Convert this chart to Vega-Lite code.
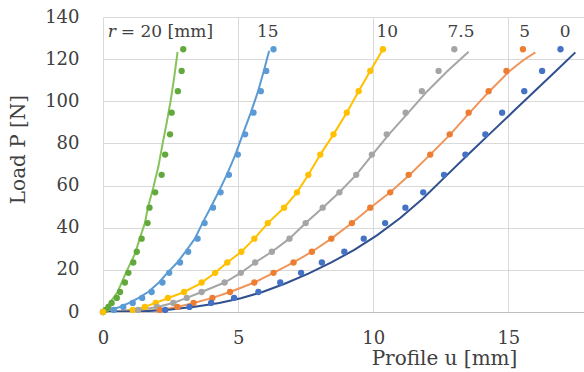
{
  "$schema": "https://vega.github.io/schema/vega-lite/v6.json",
  "width": 481,
  "height": 295,
  "autosize": {"type": "none"},
  "padding": {"left": 103, "top": 17, "right": 0, "bottom": 60},
  "background": "white",
  "config": {"view": {"stroke": null}, "font": "DejaVu Serif"},
  "datasets": {
    "measured": [
      {"r": "20", "u": 0, "P": 0}, {"r": "20", "u": 0.1, "P": 1.0}, {"r": "20", "u": 0.2, "P": 2.4}, {"r": "20", "u": 0.32, "P": 4.3},
      {"r": "20", "u": 0.51, "P": 6.7}, {"r": "20", "u": 0.63, "P": 9.5}, {"r": "20", "u": 0.81, "P": 14.0}, {"r": "20", "u": 0.94, "P": 18.6},
      {"r": "20", "u": 1.12, "P": 23.5}, {"r": "20", "u": 1.25, "P": 28.6}, {"r": "20", "u": 1.43, "P": 34.8}, {"r": "20", "u": 1.65, "P": 42.2},
      {"r": "20", "u": 1.72, "P": 49.5}, {"r": "20", "u": 1.93, "P": 56.8}, {"r": "20", "u": 2.17, "P": 65.1}, {"r": "20", "u": 2.30, "P": 74.7},
      {"r": "20", "u": 2.48, "P": 84.3}, {"r": "20", "u": 2.54, "P": 94.6}, {"r": "20", "u": 2.77, "P": 104.8}, {"r": "20", "u": 2.91, "P": 114.4},
      {"r": "20", "u": 2.97, "P": 124.7},
      {"r": "15", "u": 0, "P": 0}, {"r": "15", "u": 0.4, "P": 1.0}, {"r": "15", "u": 0.75, "P": 2.4}, {"r": "15", "u": 1.1, "P": 4.3},
      {"r": "15", "u": 1.45, "P": 6.7}, {"r": "15", "u": 1.8, "P": 9.5}, {"r": "15", "u": 2.2, "P": 14.0}, {"r": "15", "u": 2.45, "P": 18.6},
      {"r": "15", "u": 2.85, "P": 23.5}, {"r": "15", "u": 3.15, "P": 28.6}, {"r": "15", "u": 3.5, "P": 34.8}, {"r": "15", "u": 3.76, "P": 42.2},
      {"r": "15", "u": 4.07, "P": 49.5}, {"r": "15", "u": 4.35, "P": 56.8}, {"r": "15", "u": 4.66, "P": 65.1}, {"r": "15", "u": 4.99, "P": 74.7},
      {"r": "15", "u": 5.26, "P": 84.3}, {"r": "15", "u": 5.57, "P": 94.6}, {"r": "15", "u": 5.84, "P": 104.8}, {"r": "15", "u": 6.04, "P": 114.4},
      {"r": "15", "u": 6.31, "P": 124.7},
      {"r": "10", "u": 0, "P": 0}, {"r": "10", "u": 1.1, "P": 1.0}, {"r": "10", "u": 1.55, "P": 2.4}, {"r": "10", "u": 1.95, "P": 4.3},
      {"r": "10", "u": 2.4, "P": 6.7}, {"r": "10", "u": 3.0, "P": 9.5}, {"r": "10", "u": 3.65, "P": 14.0}, {"r": "10", "u": 4.15, "P": 18.6},
      {"r": "10", "u": 4.6, "P": 23.5}, {"r": "10", "u": 5.12, "P": 28.6}, {"r": "10", "u": 5.6, "P": 34.8}, {"r": "10", "u": 6.1, "P": 42.2},
      {"r": "10", "u": 6.7, "P": 49.5}, {"r": "10", "u": 7.18, "P": 56.8}, {"r": "10", "u": 7.6, "P": 65.1}, {"r": "10", "u": 8.04, "P": 74.7},
      {"r": "10", "u": 8.53, "P": 84.3}, {"r": "10", "u": 9.02, "P": 94.6}, {"r": "10", "u": 9.46, "P": 104.8}, {"r": "10", "u": 9.89, "P": 114.4},
      {"r": "10", "u": 10.36, "P": 124.7},
      {"r": "7.5", "u": 1.3, "P": 1.0}, {"r": "7.5", "u": 2.0, "P": 2.4}, {"r": "7.5", "u": 2.6, "P": 4.3},
      {"r": "7.5", "u": 3.1, "P": 6.7}, {"r": "7.5", "u": 3.65, "P": 9.5}, {"r": "7.5", "u": 4.5, "P": 14.0}, {"r": "7.5", "u": 5.1, "P": 18.6},
      {"r": "7.5", "u": 5.63, "P": 23.5}, {"r": "7.5", "u": 6.25, "P": 28.6}, {"r": "7.5", "u": 6.9, "P": 34.8}, {"r": "7.5", "u": 7.5, "P": 42.2},
      {"r": "7.5", "u": 8.13, "P": 49.5}, {"r": "7.5", "u": 8.75, "P": 56.8}, {"r": "7.5", "u": 9.37, "P": 65.1}, {"r": "7.5", "u": 9.95, "P": 74.7},
      {"r": "7.5", "u": 10.5, "P": 84.3}, {"r": "7.5", "u": 11.2, "P": 94.6}, {"r": "7.5", "u": 11.8, "P": 104.8}, {"r": "7.5", "u": 12.42, "P": 114.4},
      {"r": "7.5", "u": 13.0, "P": 124.7},
      {"r": "5", "u": 2.1, "P": 1.0}, {"r": "5", "u": 2.75, "P": 2.4}, {"r": "5", "u": 3.35, "P": 4.3},
      {"r": "5", "u": 4.05, "P": 6.7}, {"r": "5", "u": 4.7, "P": 9.5}, {"r": "5", "u": 5.6, "P": 14.0}, {"r": "5", "u": 6.31, "P": 18.6},
      {"r": "5", "u": 7.05, "P": 23.5}, {"r": "5", "u": 7.73, "P": 28.6}, {"r": "5", "u": 8.45, "P": 34.8}, {"r": "5", "u": 9.21, "P": 42.2},
      {"r": "5", "u": 9.89, "P": 49.5}, {"r": "5", "u": 10.63, "P": 56.8}, {"r": "5", "u": 11.31, "P": 65.1}, {"r": "5", "u": 12.11, "P": 74.7},
      {"r": "5", "u": 12.83, "P": 84.3}, {"r": "5", "u": 13.53, "P": 94.6}, {"r": "5", "u": 14.27, "P": 104.8}, {"r": "5", "u": 14.93, "P": 114.4},
      {"r": "5", "u": 15.54, "P": 124.7},
      {"r": "0", "u": 2.3, "P": 1.0}, {"r": "0", "u": 3.2, "P": 2.4}, {"r": "0", "u": 4.0, "P": 4.3},
      {"r": "0", "u": 4.85, "P": 6.7}, {"r": "0", "u": 5.75, "P": 9.5}, {"r": "0", "u": 6.56, "P": 14.0}, {"r": "0", "u": 7.33, "P": 18.6},
      {"r": "0", "u": 8.1, "P": 23.5}, {"r": "0", "u": 8.93, "P": 28.6}, {"r": "0", "u": 9.65, "P": 34.8}, {"r": "0", "u": 10.44, "P": 42.2},
      {"r": "0", "u": 11.19, "P": 49.5}, {"r": "0", "u": 11.85, "P": 56.8}, {"r": "0", "u": 12.62, "P": 65.1}, {"r": "0", "u": 13.41, "P": 74.7},
      {"r": "0", "u": 14.15, "P": 84.3}, {"r": "0", "u": 14.77, "P": 94.6}, {"r": "0", "u": 15.59, "P": 104.8}, {"r": "0", "u": 16.25, "P": 114.4},
      {"r": "0", "u": 16.93, "P": 124.7}
    ],
    "model": [
      {"r": "20", "u": 0, "P": 0}, {"r": "20", "u": 0.19, "P": 3.3}, {"r": "20", "u": 0.54, "P": 9.5}, {"r": "20", "u": 0.88, "P": 19.5},
      {"r": "20", "u": 1.18, "P": 27.5}, {"r": "20", "u": 1.36, "P": 34.8}, {"r": "20", "u": 1.55, "P": 42.2}, {"r": "20", "u": 1.66, "P": 49.5},
      {"r": "20", "u": 1.85, "P": 58.5}, {"r": "20", "u": 2.05, "P": 69.0}, {"r": "20", "u": 2.2, "P": 79.5}, {"r": "20", "u": 2.36, "P": 90.0},
      {"r": "20", "u": 2.5, "P": 100.0}, {"r": "20", "u": 2.63, "P": 111.0}, {"r": "20", "u": 2.76, "P": 123.5},
      {"r": "15", "u": 0, "P": 0}, {"r": "15", "u": 0.3, "P": 1.0}, {"r": "15", "u": 0.62, "P": 2.4}, {"r": "15", "u": 0.97, "P": 4.3},
      {"r": "15", "u": 1.32, "P": 6.7}, {"r": "15", "u": 1.67, "P": 9.5}, {"r": "15", "u": 2.07, "P": 14.0}, {"r": "15", "u": 2.38, "P": 18.6},
      {"r": "15", "u": 2.75, "P": 23.5}, {"r": "15", "u": 3.05, "P": 28.6}, {"r": "15", "u": 3.4, "P": 34.8}, {"r": "15", "u": 3.68, "P": 42.2},
      {"r": "15", "u": 3.98, "P": 49.5}, {"r": "15", "u": 4.27, "P": 56.8}, {"r": "15", "u": 4.58, "P": 65.1}, {"r": "15", "u": 4.9, "P": 74.7},
      {"r": "15", "u": 5.17, "P": 84.3}, {"r": "15", "u": 5.47, "P": 94.6}, {"r": "15", "u": 5.74, "P": 104.8}, {"r": "15", "u": 5.95, "P": 114.4},
      {"r": "15", "u": 6.15, "P": 124.0},
      {"r": "10", "u": 0, "P": 0}, {"r": "10", "u": 0.8, "P": 0.6}, {"r": "10", "u": 1.5, "P": 2.2}, {"r": "10", "u": 2.4, "P": 6.5},
      {"r": "10", "u": 3.0, "P": 9.5}, {"r": "10", "u": 3.6, "P": 13.5}, {"r": "10", "u": 4.15, "P": 18.6}, {"r": "10", "u": 4.6, "P": 23.5},
      {"r": "10", "u": 5.12, "P": 28.6}, {"r": "10", "u": 5.6, "P": 34.8}, {"r": "10", "u": 6.1, "P": 42.2}, {"r": "10", "u": 6.7, "P": 49.5},
      {"r": "10", "u": 7.18, "P": 56.8}, {"r": "10", "u": 7.6, "P": 65.1}, {"r": "10", "u": 8.04, "P": 74.7}, {"r": "10", "u": 8.53, "P": 84.3},
      {"r": "10", "u": 9.02, "P": 94.6}, {"r": "10", "u": 9.46, "P": 104.8}, {"r": "10", "u": 9.89, "P": 114.4}, {"r": "10", "u": 10.36, "P": 124.7},
      {"r": "7.5", "u": 0, "P": 0}, {"r": "7.5", "u": 1.3, "P": 1.0}, {"r": "7.5", "u": 2.0, "P": 2.4}, {"r": "7.5", "u": 2.6, "P": 4.3},
      {"r": "7.5", "u": 3.1, "P": 6.7}, {"r": "7.5", "u": 3.65, "P": 9.5}, {"r": "7.5", "u": 4.5, "P": 14.0}, {"r": "7.5", "u": 5.1, "P": 18.6},
      {"r": "7.5", "u": 5.63, "P": 23.5}, {"r": "7.5", "u": 6.25, "P": 28.6}, {"r": "7.5", "u": 6.9, "P": 34.8}, {"r": "7.5", "u": 7.5, "P": 42.2},
      {"r": "7.5", "u": 8.13, "P": 49.5}, {"r": "7.5", "u": 8.75, "P": 56.8}, {"r": "7.5", "u": 9.37, "P": 65.1}, {"r": "7.5", "u": 9.97, "P": 74.7},
      {"r": "7.5", "u": 10.58, "P": 84.3}, {"r": "7.5", "u": 11.3, "P": 94.6}, {"r": "7.5", "u": 12.0, "P": 104.8}, {"r": "7.5", "u": 12.75, "P": 114.4},
      {"r": "7.5", "u": 13.53, "P": 123.5},
      {"r": "5", "u": 0, "P": 0}, {"r": "5", "u": 1.4, "P": 0.4}, {"r": "5", "u": 2.1, "P": 1.0}, {"r": "5", "u": 2.75, "P": 2.4},
      {"r": "5", "u": 3.35, "P": 4.3}, {"r": "5", "u": 4.05, "P": 6.7}, {"r": "5", "u": 4.7, "P": 9.5}, {"r": "5", "u": 5.6, "P": 14.0},
      {"r": "5", "u": 6.31, "P": 18.6}, {"r": "5", "u": 7.05, "P": 23.5}, {"r": "5", "u": 7.73, "P": 28.6}, {"r": "5", "u": 8.45, "P": 34.8},
      {"r": "5", "u": 9.21, "P": 42.2}, {"r": "5", "u": 9.89, "P": 49.5}, {"r": "5", "u": 10.63, "P": 56.8}, {"r": "5", "u": 11.35, "P": 65.1},
      {"r": "5", "u": 12.11, "P": 74.7}, {"r": "5", "u": 12.85, "P": 84.3}, {"r": "5", "u": 13.57, "P": 94.6}, {"r": "5", "u": 14.3, "P": 104.8},
      {"r": "5", "u": 15.05, "P": 114.4}, {"r": "5", "u": 15.55, "P": 119.5}, {"r": "5", "u": 16.0, "P": 123.2},
      {"r": "0", "u": 0, "P": 0}, {"r": "0", "u": 1.5, "P": 0.3}, {"r": "0", "u": 2.5, "P": 1.2}, {"r": "0", "u": 3.4, "P": 2.5},
      {"r": "0", "u": 4.3, "P": 4.3}, {"r": "0", "u": 5.1, "P": 6.5}, {"r": "0", "u": 5.9, "P": 9.5}, {"r": "0", "u": 6.7, "P": 13.3},
      {"r": "0", "u": 7.6, "P": 18.2}, {"r": "0", "u": 8.45, "P": 23.5}, {"r": "0", "u": 9.3, "P": 29.5}, {"r": "0", "u": 10.15, "P": 36.5},
      {"r": "0", "u": 11.0, "P": 44.6}, {"r": "0", "u": 11.85, "P": 54.0}, {"r": "0", "u": 12.65, "P": 64.0}, {"r": "0", "u": 13.53, "P": 75.0},
      {"r": "0", "u": 14.35, "P": 85.0}, {"r": "0", "u": 15.17, "P": 95.0}, {"r": "0", "u": 15.99, "P": 105.0}, {"r": "0", "u": 16.81, "P": 115.0},
      {"r": "0", "u": 17.48, "P": 123.2}
    ],
    "curveLabels": [
      {"t": "= 20 [mm]", "u": 0.66, "P": 132.9},
      {"t": "15", "u": 5.7, "P": 132.9},
      {"t": "10", "u": 10.12, "P": 132.9},
      {"t": "7.5", "u": 12.75, "P": 132.9},
      {"t": "5", "u": 15.4, "P": 132.9},
      {"t": "0", "u": 16.9, "P": 132.9}
    ],
    "radiusSymbol": [
      {"t": "r", "u": 0.18, "P": 132.9}
    ]
  },
  "encoding": {
    "x": {
      "field": "u",
      "type": "quantitative",
      "scale": {"domain": [0, 17.8], "nice": false},
      "axis": {
        "values": [0, 5, 10, 15],
        "grid": true,
        "gridColor": "#D9D9D9",
        "domainColor": "#BFBFBF",
        "ticks": false,
        "labelFlush": false,
        "labelFontSize": 18,
        "labelColor": "#404040",
        "labelPadding": 17,
        "title": "Profile u [mm]",
        "titleFontSize": 20,
        "titleFontWeight": "normal",
        "titleColor": "#404040",
        "titleX": 341,
        "titleY": 46,
        "titleAlign": "center",
        "titleBaseline": "middle"
      }
    },
    "y": {
      "field": "P",
      "type": "quantitative",
      "scale": {"domain": [0, 140], "nice": false},
      "axis": {
        "values": [0, 20, 40, 60, 80, 100, 120, 140],
        "grid": true,
        "gridColor": "#D9D9D9",
        "domain": false,
        "ticks": false,
        "labelFontSize": 18,
        "labelColor": "#404040",
        "labelPadding": 24,
        "title": "Load P [N]",
        "titleFontSize": 20,
        "titleFontWeight": "normal",
        "titleColor": "#404040",
        "titleAngle": -90,
        "titleX": -85,
        "titleY": 132,
        "titleAlign": "center",
        "titleBaseline": "middle"
      }
    }
  },
  "layer": [
    {
      "data": {"name": "model"},
      "mark": {"type": "line", "strokeWidth": 2, "clip": true},
      "encoding": {
        "color": {
          "field": "r",
          "type": "nominal",
          "scale": {
            "domain": ["20", "15", "10", "7.5", "5", "0"],
            "range": ["#84C45A", "#5B9BD5", "#FFC000", "#A5A5A5", "#F0955A", "#2F4F8F"]
          },
          "legend": null
        },
        "order": {"field": "P", "type": "quantitative"}
      }
    },
    {
      "data": {"name": "measured"},
      "mark": {"type": "circle", "size": 40, "opacity": 1},
      "encoding": {
        "color": {
          "field": "r",
          "type": "nominal",
          "scale": {
            "domain": ["20", "15", "10", "7.5", "5", "0"],
            "range": ["#62A83C", "#5B9BD5", "#FFC000", "#A5A5A5", "#ED7D31", "#4472C4"]
          },
          "legend": null
        }
      }
    },
    {
      "data": {"name": "curveLabels"},
      "mark": {"type": "text", "align": "left", "baseline": "middle", "fontSize": 17, "color": "#404040"},
      "encoding": {"text": {"field": "t"}}
    },
    {
      "data": {"name": "radiusSymbol"},
      "mark": {"type": "text", "align": "left", "baseline": "middle", "fontSize": 17, "fontStyle": "italic", "color": "#404040"},
      "encoding": {"text": {"field": "t"}}
    }
  ],
  "resolve": {"scale": {"color": "independent"}}
}
